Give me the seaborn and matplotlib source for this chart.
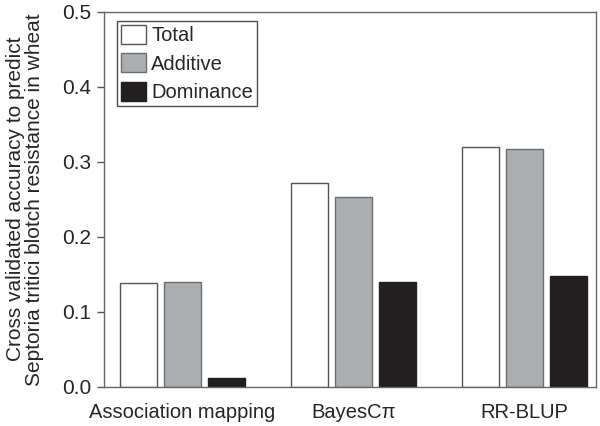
import matplotlib
matplotlib.use("Agg")
import matplotlib.pyplot as plt
import seaborn as sns
import pandas as pd
from matplotlib.patches import Patch

methods = ["Association mapping", "BayesCπ", "RR-BLUP"]
components = ["Total", "Additive", "Dominance"]
total = [0.138, 0.272, 0.320]
additive = [0.140, 0.253, 0.317]
dominance = [0.011, 0.139, 0.148]
yticks = [0.0, 0.1, 0.2, 0.3, 0.4, 0.5]

rows = []
for i, m in enumerate(methods):
    rows.append((m, "Total", total[i]))
    rows.append((m, "Additive", additive[i]))
    rows.append((m, "Dominance", dominance[i]))
df = pd.DataFrame(rows, columns=["method", "component", "value"])

sns.set_style("white")
plt.rcParams["font.family"] = ["Liberation Sans", "DejaVu Sans"]

fills = {"Total": "#ffffff", "Additive": "#abaeb0", "Dominance": "#231f20"}
edges = {"Total": "#555555", "Additive": "#6e6e6e", "Dominance": "#231f20"}

fig = plt.figure(figsize=(6.0, 4.26), dpi=100)
ax = fig.add_axes([0.1733, 0.0923, 0.82, 0.8802])

sns.barplot(data=df, x="method", y="value", hue="component", order=methods,
            hue_order=components, palette=fills, saturation=1, width=0.771,
            gap=0.163, edgecolor="#555555", linewidth=1.0, ax=ax, legend=False)

for cont, comp in zip(ax.containers, components):
    for p in cont:
        p.set_edgecolor(edges[comp])
        p.set_facecolor(fills[comp])

ax.set_xlim(-0.458, 2.419)
ax.set_ylim(0, 0.5)
ax.set_yticks(yticks)
ax.set_yticklabels([f"{v:.1f}" for v in yticks])
ax.set_xlabel("")
ax.set_ylabel("Cross validated accuracy to predict\nSeptoria tritici blotch resistance in wheat",
              fontsize=15, linespacing=1.0)
ax.yaxis.set_label_coords(-0.122, 0.5)
ax.tick_params(axis="y", length=5, width=1, color="#555555", pad=4, labelsize=15, left=True)
ax.tick_params(axis="x", length=0, pad=12, labelsize=14.5)
for s in ax.spines.values():
    s.set_color("#666666")
    s.set_linewidth(1.0)
    s.set_visible(True)

handles = [Patch(facecolor=fills[c], edgecolor=edges[c], linewidth=1.0) for c in components]
leg = ax.legend(handles, components, loc="upper left",
                bbox_to_anchor=(0.0258, 0.976), borderaxespad=0,
                fontsize=14.5, handlelength=1.24, handleheight=1.09,
                labelspacing=0.4, handletextpad=0.28, borderpad=0.2,
                fancybox=False, frameon=True)
leg.get_frame().set_edgecolor("#231f20")
leg.get_frame().set_linewidth(1.0)

fig.savefig("out.png", dpi=100)
